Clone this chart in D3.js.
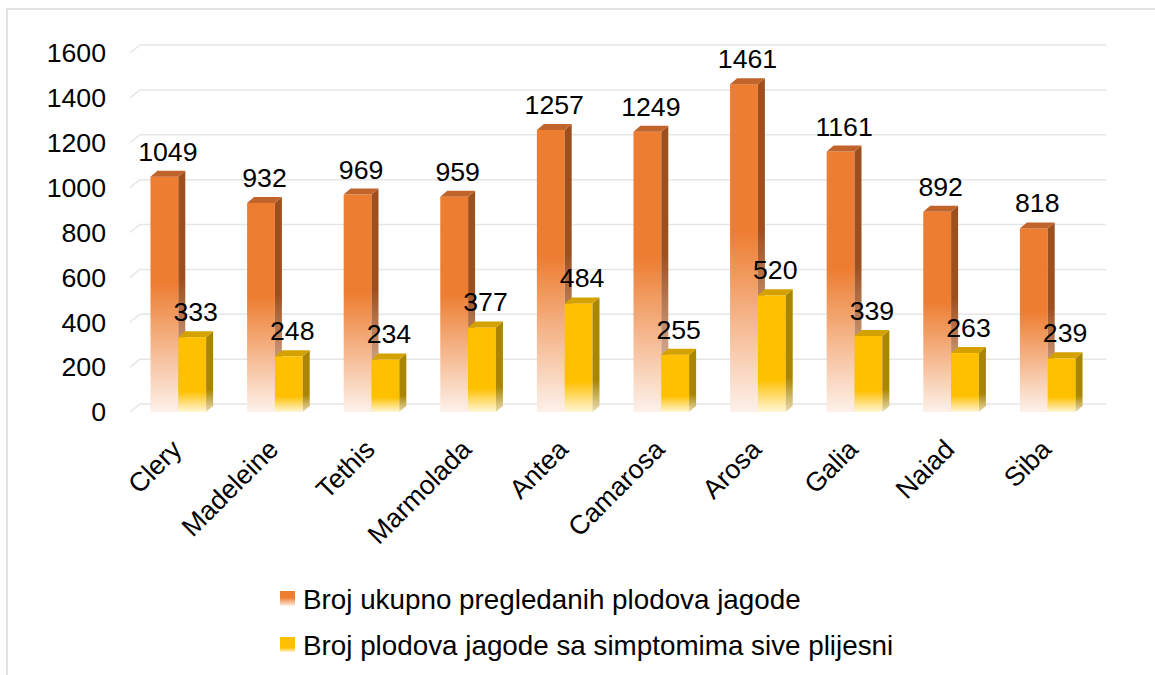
<!DOCTYPE html>
<meta charset="utf-8">
<style>
body { margin: 0; background: #fff; }
text { font-family: "Liberation Sans", Arial, sans-serif; fill: #000; }
.grid { fill: none; stroke: #e6e6e6; stroke-width: 1.5px; }
</style>
<svg width="1155" height="675"></svg>
<script src="https://d3js.org/d3.v7.min.js"></script>
<script>

// data
var cultivars = ["Clery", "Madeleine", "Tethis", "Marmolada", "Antea", "Camarosa", "Arosa", "Galia", "Naiad", "Siba"];
var totalFruits = [1049, 932, 969, 959, 1257, 1249, 1461, 1161, 892, 818];
var greyMould = [333, 248, 234, 377, 484, 255, 520, 339, 263, 239];
var seriesNames = ["Broj ukupno pregledanih plodova jagode", "Broj plodova jagode sa simptomima sive plijesni"];
var yTicks = [0, 200, 400, 600, 800, 1000, 1200, 1400, 1600];

var svg = d3.select("svg");
var defs = svg.append("defs");

// depth of the 3d effect
var dx = 7, dy = -6;
var wallX = 10, wallY = -8;

var y = d3.scaleLinear().domain([0, 1600]).range([412, 53]);
var x0 = d3.scaleBand().domain(cultivars).range([130, 1096])
    .paddingInner(0.424).paddingOuter(0.212);
var x1 = d3.scaleBand().domain([0, 1]).range([0, x0.bandwidth()]);

// frame
svg.append("rect")
    .attr("x", 7).attr("y", 9)
    .attr("width", 1160).attr("height", 680)
    .style("fill", "none")
    .style("stroke", "#d9d9d9")
    .style("stroke-width", 1.5);

var styles = [
  {front: "#ED7D31", side: "#9E4F1E", top: "#C0642B", frontEnd: "#fdf1ea", sideEnd: "#f0d8c8", stop: 0.45, id: "s0"},
  {front: "#FFC000", side: "#A98500", top: "#D4A200", frontEnd: "#fff6d6", sideEnd: "#eadcb0", stop: 0.72, id: "s1"}
];

styles.forEach(function(s) {
  [["f", s.front, s.frontEnd], ["s", s.side, s.sideEnd]].forEach(function(g) {
    var lg = defs.append("linearGradient")
        .attr("id", s.id + g[0])
        .attr("x1", 0).attr("y1", 0).attr("x2", 0).attr("y2", 1);
    lg.append("stop").attr("offset", 0).attr("stop-color", g[1]);
    lg.append("stop").attr("offset", s.stop).attr("stop-color", g[1]);
    lg.append("stop").attr("offset", 1).attr("stop-color", g[2]);
  });
});

// gridlines with the slanted floor/wall part
svg.append("g").selectAll("path")
  .data(yTicks)
  .enter().append("path")
    .attr("class", "grid")
    .attr("d", function(d) {
      var yy = y(d);
      return "M130," + yy + "L" + (130 + wallX) + "," + (yy + wallY) + "L1106," + (yy + wallY);
    });

// y labels
svg.append("g").selectAll("text")
  .data(yTicks)
  .enter().append("text")
    .attr("x", 106)
    .attr("y", function(d) { return y(d); })
    .attr("dy", "0.35em")
    .attr("text-anchor", "end")
    .style("font-size", "26.7px")
    .text(function(d) { return d; });

// bars
var series = [totalFruits, greyMould];
cultivars.forEach(function(c, i) {
  var g = svg.append("g");
  series.forEach(function(vals, k) {
    var s = styles[k];
    var v = vals[i];
    var bx = x0(c) + x1(k), bw = x1.bandwidth();
    var yt = y(v), yb = y(0);
    g.append("rect")
        .attr("x", bx).attr("y", yt)
        .attr("width", bw).attr("height", yb - yt)
        .style("fill", "url(#" + s.id + "f)");
    g.append("path")
        .attr("d", "M" + (bx + bw) + "," + yt + "L" + (bx + bw + dx) + "," + (yt + dy) +
            "L" + (bx + bw + dx) + "," + (yb + dy) + "L" + (bx + bw) + "," + yb + "Z")
        .style("fill", "url(#" + s.id + "s)");
    g.append("path")
        .attr("d", "M" + bx + "," + yt + "L" + (bx + dx) + "," + (yt + dy) +
            "L" + (bx + bw + dx) + "," + (yt + dy) + "L" + (bx + bw) + "," + yt + "Z")
        .style("fill", s.top);
  });
});

// value labels on top
series.forEach(function(vals, k) {
  svg.append("g").selectAll("text")
    .data(vals)
    .enter().append("text")
      .attr("x", function(d, i) { return x0(cultivars[i]) + x1(k) + x1.bandwidth() / 2 + dx / 2; })
      .attr("y", function(d) { return y(d) + dy - 10; })
      .attr("text-anchor", "middle")
      .style("font-size", "26.7px")
      .text(function(d) { return d; });
});

// category labels
svg.append("g").selectAll("text")
  .data(cultivars)
  .enter().append("text")
    .attr("text-anchor", "end")
    .attr("transform", function(d) {
      return "translate(" + (x0(d) + x0.bandwidth() / 2 + 5) + ",451) rotate(-45)";
    })
    .style("font-size", "26.7px")
    .text(function(d) { return d; });

// legend
var legend = svg.append("g").selectAll("g")
  .data(seriesNames)
  .enter().append("g")
    .attr("transform", function(d, i) { return "translate(280," + (591 + i * 46) + ")"; });

legend.append("rect")
    .attr("width", 15).attr("height", 15)
    .style("fill", function(d, i) { return "url(#" + styles[i].id + "f)"; });

legend.append("text")
    .attr("x", 23).attr("y", 8)
    .attr("dy", "0.35em")
    .style("font-size", "27.8px")
    .text(function(d) { return d; });

</script>
